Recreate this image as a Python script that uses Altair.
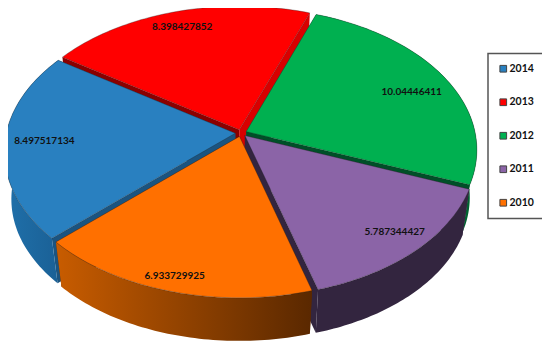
import math
import altair as alt
import pandas as pd

# ---- chart values ----
years = ["2014", "2013", "2012", "2011", "2010"]
values = [8.497517134, 8.398427852, 10.04446411, 5.787344427, 6.933729925]
labels = ["8.497517134", "8.398427852", "10.04446411", "5.787344427", "6.933729925"]
colors = ["#2980C0", "#FF0000", "#00B050", "#8B64A7", "#FF7000"]

# ---- styling of the 3D look ----
wall_left = ["#1F70AA", None, "#008845", "#33253F", "#C85C00"]
wall_right = ["#1A5F94", None, "#00602F", "#33253F", "#5A2800"]
face_start = ["#1B5480", "#8B0000", "#008845", "#33253F", "#5A2800"]  # clockwise-start face of a slice
face_end = ["#1B5480", "#D80000", "#004F28", "#33253F", "#5A2800"]    # clockwise-end face of a slice
label_r = [0.83, 0.875, 0.815, 0.863, 0.906]
label_turn = [1.6, -0.5, 1.75, -1.6, 0.7]
paint_order = [1, 2, 0, 3, 4]

# perspective model of the pie
START, CX, CY, A, B, P, EXPL, SHRINK, DEPTH = 226.8, 241.0, 133.0, 229.0, 140.0, 0.127, 0.025, 0.97, 48.0


def project(u, v, bottom=False):
    w = 1 + P * v
    x, y = A * u / w, -B * v / w
    if bottom:
        return CX + x * SHRINK, CY + y * SHRINK + DEPTH
    return CX + x, CY + y


X = alt.Scale(domain=[8, 542], range=[0, 534], nice=False, zero=False)
Y = alt.Scale(domain=[8, 341], range=[0, 333], nice=False, zero=False)


def polygon(points, fill, **kw):
    df = pd.DataFrame(
        {"x": [p[0] for p in points], "y": [p[1] for p in points], "i": list(range(len(points)))}
    )
    return alt.Chart(df).mark_line(filled=True, interpolate="linear", fill=fill, strokeJoin="round", **kw).encode(
        x=alt.X("x:Q", scale=X, axis=None),
        y=alt.Y("y:Q", scale=Y, axis=None),
        order=alt.Order("i:Q"),
    )


def gradient(c0, c1):
    return alt.Gradient(
        gradient="linear",
        x1=0, x2=1, y1=0, y2=0,
        stops=[alt.GradientStop(color=c0, offset=0), alt.GradientStop(color=c1, offset=1)],
    )


total = sum(values)
spans, a = [], START
for val in values:
    spans.append((a, a + 360 * val / total))
    a = spans[-1][1]

layers = []
text_rows = []
for k in paint_order:
    t0, t1 = spans[k]
    mid = math.radians((t0 + t1) / 2)
    ou, ov = EXPL * math.sin(mid), EXPL * math.cos(mid)
    n = 60
    rim = [
        (ou + math.sin(math.radians(t0 + (t1 - t0) * i / n)), ov + math.cos(math.radians(t0 + (t1 - t0) * i / n)))
        for i in range(n + 1)
    ]
    top_rim = [project(*p) for p in rim]
    low_rim = [project(*p, bottom=True) for p in rim]
    apex_t, apex_b = project(ou, ov), project(ou, ov, bottom=True)

    layers.append(polygon([apex_t, top_rim[0], low_rim[0], apex_b, apex_t], face_start[k]))
    layers.append(polygon([apex_t, top_rim[-1], low_rim[-1], apex_b, apex_t], face_end[k]))
    if wall_left[k]:
        layers.append(polygon(top_rim + low_rim[::-1] + [top_rim[0]], gradient(wall_left[k], wall_right[k])))
    layers.append(
        polygon([apex_t] + top_rim + [apex_t], colors[k], stroke="#222222", strokeWidth=0.6, strokeOpacity=0.55)
    )

for k in range(len(years)):
    t0, t1 = spans[k]
    mid = math.radians((t0 + t1) / 2)
    turned = mid + math.radians(label_turn[k])
    lx, ly = project(
        label_r[k] * math.sin(turned) + EXPL * math.sin(mid),
        label_r[k] * math.cos(turned) + EXPL * math.cos(mid),
    )
    text_rows.append({"x": lx, "y": ly, "t": labels[k], "year": years[k]})
text_df = pd.DataFrame(text_rows)

text = alt.Chart(text_df).mark_text(font="Lato", fontWeight="bold", fontSize=10, color="#111111", dy=2).encode(
    x=alt.X("x:Q", scale=X, axis=None), y=alt.Y("y:Q", scale=Y, axis=None), text="t:N"
)

legend_layer = alt.Chart(text_df).mark_square(size=0, opacity=0).encode(
    x=alt.X("x:Q", scale=X, axis=None),
    y=alt.Y("y:Q", scale=Y, axis=None),
    color=alt.Color(
        "year:N",
        scale=alt.Scale(domain=years, range=colors),
        legend=alt.Legend(
            title=None,
            orient="none",
            legendX=480,
            legendY=45.5,
            symbolType="square",
            symbolSize=45,
            symbolOpacity=1,
            symbolStrokeColor="#444444",
            symbolStrokeWidth=1,
            labelFont="Lato",
            labelFontWeight="bold",
            labelFontSize=10.5,
            labelColor="#111111",
            labelOffset=1,
            rowPadding=21.5,
            padding=10,
            strokeColor="#555555",
            fillColor="white",
        ),
    ),
)

chart = (
    alt.layer(*layers, text, legend_layer)
    .properties(width=534, height=333, padding=0, background="white", autosize=alt.AutoSizeParams(type="none"))
    .configure_view(stroke=None)
    .configure_legend(strokeWidth=1.5)
)
chart.save("out.html", embed_options={"renderer": "svg", "actions": False})
